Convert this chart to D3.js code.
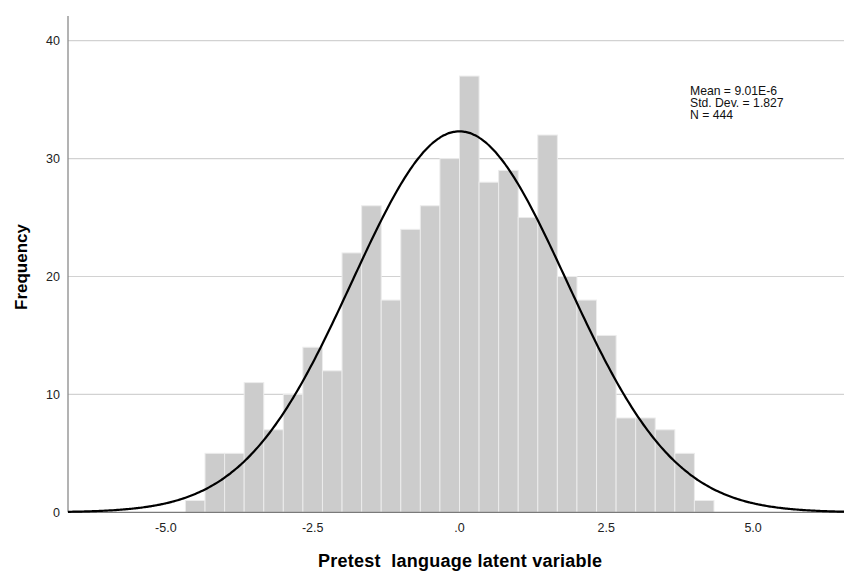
<!DOCTYPE html>
<html>
<head>
<meta charset="utf-8">
<script src="https://cdn.jsdelivr.net/npm/d3@7/dist/d3.min.js"></script>
<style>
  html, body { margin: 0; padding: 0; background: #fff; }
  svg { display: block; font-family: "Liberation Sans", Arial, sans-serif; }
  text { white-space: pre; }
</style>
</head>
<body>
<svg id="chart" width="844" height="572"></svg>
<script>
// ---- data ----
const binStart = -14 / 3;          // left edge of first bin
const binWidth = 1 / 3;            // bin width
const counts = [1, 5, 5, 11, 7, 10, 14, 12, 22, 26, 18, 24, 26, 30, 37, 28, 29, 25, 32, 20, 18, 15, 8, 8, 7, 5, 1];
const xTicks = [-5, -2.5, 0, 2.5, 5];
const xTickLabels = ["-5.0", "-2.5", ".0", "2.5", "5.0"];
const yTicks = [0, 10, 20, 30, 40];
const statsLines = ["Mean = 9.01E-6", "Std. Dev. = 1.827", "N = 444"];
const mean = 9.01e-6, sd = 1.827, N = 444;
const xTitle = "Pretest  language latent variable";
const yTitle = "Frequency";

// ---- layout ----
const svg = d3.select("#chart");
const x = d3.scaleLinear().domain([-20 / 3, 20 / 3]).range([68, 851]);
const y = d3.scaleLinear().domain([0, 40]).range([512.3, 40.7]);

const bins = counts.map((c, i) => ({ x0: binStart + i * binWidth, x1: binStart + (i + 1) * binWidth, c }));

// gridlines
svg.append("g").selectAll("line").data(yTicks.filter(t => t > 0)).join("line")
  .attr("x1", x.range()[0]).attr("x2", 844)
  .attr("y1", d => y(d)).attr("y2", d => y(d))
  .attr("stroke", "#d2d2d2").attr("stroke-width", 1.2);

// bars
svg.append("g").selectAll("rect").data(bins).join("rect")
  .attr("x", d => x(d.x0))
  .attr("y", d => y(d.c))
  .attr("width", d => x(d.x1) - x(d.x0))
  .attr("height", d => y(0) - y(d.c))
  .attr("fill", "#cccccc")
  .attr("stroke", "#ececec")
  .attr("stroke-width", 1);

// axes lines
svg.append("line").attr("x1", 68).attr("x2", 68).attr("y1", 16).attr("y2", y(0))
  .attr("stroke", "#8a8a8a").attr("stroke-width", 1.3);
svg.append("line").attr("x1", 68).attr("x2", 844).attr("y1", y(0)).attr("y2", y(0))
  .attr("stroke", "#7a7a7a").attr("stroke-width", 1.3);

// normal curve
const pts = d3.range(0, 401).map(i => {
  const v = x.domain()[0] + i * (x.domain()[1] - x.domain()[0]) / 400;
  const dens = Math.exp(-0.5 * ((v - mean) / sd) ** 2) / (sd * Math.sqrt(2 * Math.PI));
  return [v, N * binWidth * dens];
});
svg.append("path").datum(pts)
  .attr("d", d3.line().x(d => x(d[0])).y(d => y(d[1])).curve(d3.curveBasis))
  .attr("fill", "none").attr("stroke", "#000").attr("stroke-width", 2.2);

// y tick labels
svg.append("g").selectAll("text").data(yTicks).join("text")
  .attr("x", 60).attr("y", d => y(d)).attr("dy", "0.35em")
  .attr("text-anchor", "end").attr("font-size", 12.5).attr("fill", "#222")
  .text(d => d);

// x tick labels
svg.append("g").selectAll("text").data(xTicks).join("text")
  .attr("x", d => x(d)).attr("y", 531.5)
  .attr("text-anchor", "middle").attr("font-size", 12.5).attr("fill", "#222")
  .text((d, i) => xTickLabels[i]);

// titles
svg.append("text").attr("x", 318).attr("y", 566.5).attr("text-anchor", "start")
  .attr("font-size", 18).attr("font-weight", "bold").attr("fill", "#000")
  .attr("textLength", 284).attr("lengthAdjust", "spacing")
  .attr("xml:space", "preserve").text(xTitle);
svg.append("text").attr("transform", "translate(27,267) rotate(-90)").attr("text-anchor", "middle")
  .attr("font-size", 17).attr("font-weight", "bold").attr("fill", "#000").text(yTitle);

// stats box
svg.append("g").selectAll("text").data(statsLines).join("text")
  .attr("x", 690).attr("y", (d, i) => 94.5 + i * 12.4)
  .attr("font-size", 12.2).attr("fill", "#111")
  .text(d => d);
</script>
</body>
</html>
